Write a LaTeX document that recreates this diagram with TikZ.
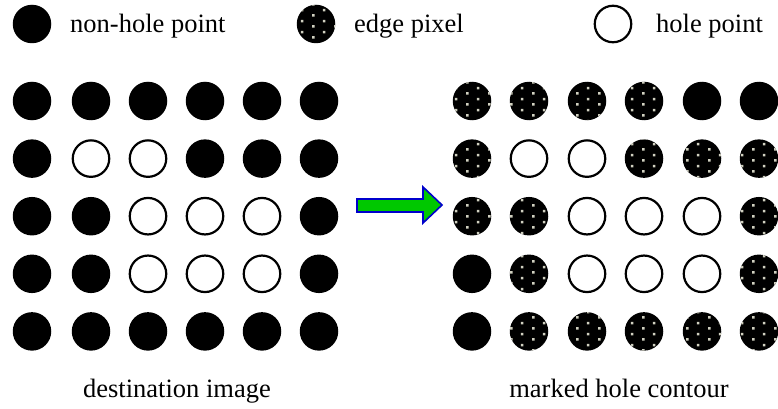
\documentclass[tikz,border=0pt]{standalone}
\usepackage{fontspec}
\setmainfont{Liberation Serif}
\usetikzlibrary{patterns.meta}

\definecolor{dotgrey}{RGB}{208,208,192}
\definecolor{arrowgreen}{RGB}{0,200,0}
\definecolor{arrowblue}{RGB}{0,0,205}

% staggered light dots used inside edge pixels
\tikzdeclarepattern{
  name=edgedots,
  type=uncolored,
  bottom left={(0pt,0pt)},
  top right={(22pt,11.2pt)},
  tile size={(22pt,11.2pt)},
  code={
    \fill (4.2pt,1.5pt) rectangle (6.8pt,4.1pt);
    \fill (15.2pt,7.1pt) rectangle (17.8pt,9.7pt);
  }
}

\tikzset{
  dotbase/.style={circle, inner sep=0pt, minimum size=38.5pt},
  kindN/.style={dotbase, fill=black},
  kindE/.style={dotbase, fill=black, postaction={pattern=edgedots, pattern color=dotgrey}},
  kindH/.style={circle, inner sep=0pt, minimum size=36.5pt, draw=black, line width=2.2pt, fill=white},
  caption/.style={inner sep=0pt, font=\fontsize{26.5}{30}\selectfont},
  flowarrow/.style={fill=arrowgreen, draw=arrowblue, line width=1.6pt, line join=miter},
}

\begin{document}
\begin{tikzpicture}[x=1pt, y=-1pt]
  \fill[white] (0,0) rectangle (778,409);
  \useasboundingbox (0,0) rectangle (778,409);

  % legend
  \node[kindN] (legN) at (32,24) {};
  \node[caption, anchor=base west] (legNtext) at (70,33) {non-hole point};
  \node[kindE] (legE) at (316,24) {};
  \node[caption, anchor=base west] (legEtext) at (354,33) {edge pixel};
  \node[kindH] (legH) at (613,24) {};
  \node[caption, anchor=base west] (legHtext) at (656,33) {hole point};

  % destination image
  \foreach \rowlist [count=\r] in {
      {N,N,N,N,N,N},
      {N,H,H,N,N,N},
      {N,N,H,H,H,N},
      {N,N,H,H,H,N},
      {N,N,N,N,N,N}} {
    \foreach \k [count=\c] in \rowlist {
      \pgfmathsetmacro\px{{32,91,148,205,262,319}[\c-1]}
      \node[kind\k] (L-\r-\c) at (\px, {101+(\r-1)*57.6}) {};
    }
  }

  % marked hole contour
  \foreach \rowlist [count=\r] in {
      {E,E,E,E,N,N},
      {E,H,H,E,E,E},
      {E,E,H,H,H,E},
      {N,E,H,H,H,E},
      {N,E,E,E,E,E}} {
    \foreach \k [count=\c] in \rowlist {
      \pgfmathsetmacro\px{{472,529,587,644,702,759}[\c-1]}
      \node[kind\k] (R-\r-\c) at (\px, {101+(\r-1)*57.6}) {};
    }
  }

  % block arrow between the two grids
  \draw[flowarrow] (357,199) -- (423,199) -- (423,187) -- (442,205)
        -- (423,223) -- (423,212) -- (357,212) -- cycle;

  % captions
  \node[caption, anchor=base] (capL) at (177,397) {destination image};
  \node[caption, anchor=base] (capR) at (619,397) {marked hole contour};
\end{tikzpicture}
\end{document}
